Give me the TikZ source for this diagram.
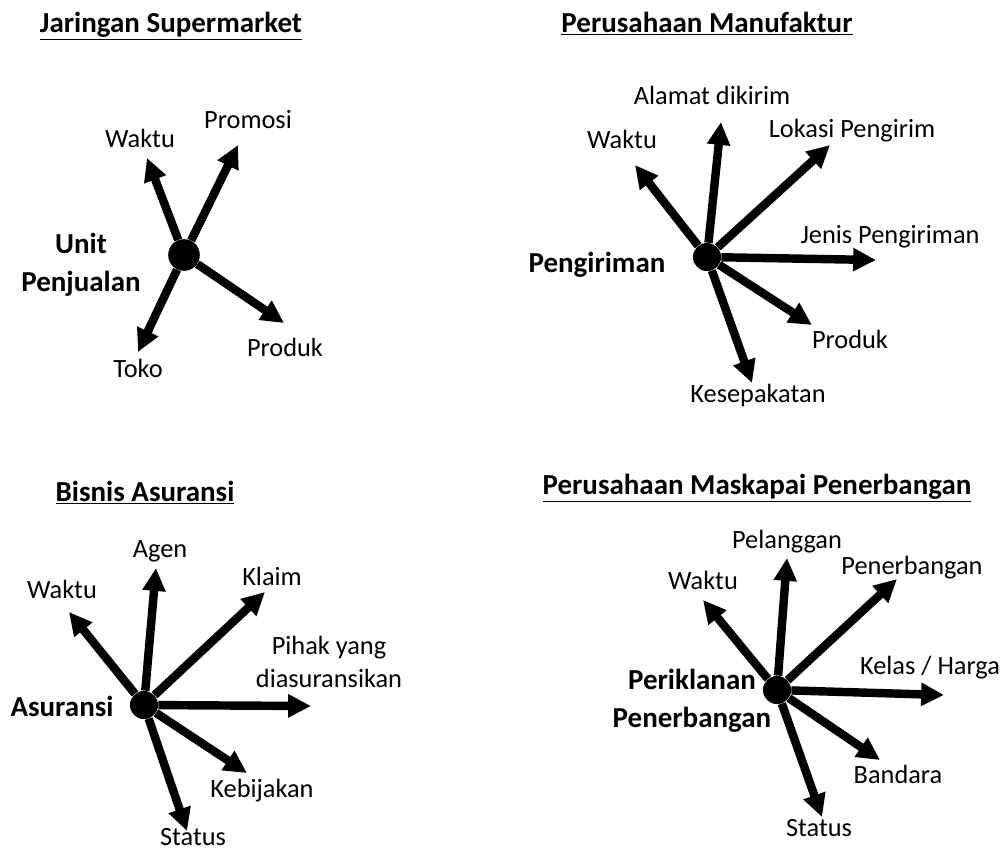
\documentclass[tikz,border=0pt]{standalone}
\usepackage{fontspec}
\setmainfont{Carlito}
\usetikzlibrary{arrows.meta}

\begin{document}
\begin{tikzpicture}[x=0.02cm,y=-0.02cm,
    dimensi/.style={line width=4.8pt,-{Triangle[length=13pt,width=12.5pt]}},
    pusat/.style={circle,fill=black,inner sep=0pt,minimum size=16pt},
    lbl/.style={font=\fontsize{15}{18.7}\selectfont,inner sep=0pt,anchor=base,align=center},
    fakta/.style={font=\fontsize{16.5}{21.5}\selectfont\bfseries,inner sep=0pt,anchor=base,align=center},
    judul/.style={font=\fontsize{16.5}{20}\selectfont\bfseries,inner sep=0pt,anchor=base}]
                \useasboundingbox (0,0) rectangle (1004,850);

                % Jaringan Supermarket
                \node[judul] (judul1) at (171,32) {\underline{Jaringan Supermarket}};
                \node[pusat,minimum size=18pt] (d1) at (184,255) {};
                \coordinate (w1) at (147,158);
                \coordinate (pr1) at (238,145);
                \coordinate (pd1) at (284,323);
                \coordinate (t1) at (138,352);
                \draw[dimensi] (d1) -- (w1);
                \draw[dimensi] (d1) -- (pr1);
                \draw[dimensi] (d1) -- (pd1);
                \draw[dimensi] (d1) -- (t1);
                \node[lbl] (lw1) at (140,147) {Waktu};
                \node[lbl] (lpr1) at (248,128) {Promosi};
                \node[lbl] (lpd1) at (285,356) {Produk};
                \node[lbl] (lt1) at (138,377) {Toko};
                \node[fakta] (f1) at (81,291) {Unit\\Penjualan};

                % Perusahaan Manufaktur
                \node[judul] (judul2) at (707,32) {\underline{Perusahaan Manufaktur}};
                \node[pusat] (d2) at (707,257) {};
                \coordinate (w2) at (635,165);
                \coordinate (al2) at (721,122);
                \coordinate (lk2) at (830,145);
                \coordinate (jn2) at (876,260);
                \coordinate (pd2) at (812,325);
                \coordinate (ks2) at (752,383);
                \draw[dimensi] (d2) -- (w2);
                \draw[dimensi] (d2) -- (al2);
                \draw[dimensi] (d2) -- (lk2);
                \draw[dimensi] (d2) -- (jn2);
                \draw[dimensi] (d2) -- (pd2);
                \draw[dimensi] (d2) -- (ks2);
                \node[lbl] (lw2) at (622,148) {Waktu};
                \node[lbl] (lal2) at (712,104) {Alamat dikirim};
                \node[lbl] (llk2) at (852,137) {Lokasi Pengirim};
                \node[lbl] (ljn2) at (890,243) {Jenis Pengiriman};
                \node[lbl] (lpd2) at (850,348) {Produk};
                \node[lbl] (lks2) at (758,402) {Kesepakatan};
                \node[fakta] (f2) at (597,272) {Pengiriman};

                % Bisnis Asuransi
                \node[judul] (judul3) at (145,501) {\underline{Bisnis Asuransi}};
                \node[pusat] (d3) at (144,705) {};
                \coordinate (w3) at (69,612);
                \coordinate (ag3) at (156,568);
                \coordinate (kl3) at (265,592);
                \coordinate (ph3) at (311,706);
                \coordinate (kb3) at (247,773);
                \coordinate (st3) at (187,831);
                \draw[dimensi] (d3) -- (w3);
                \draw[dimensi] (d3) -- (ag3);
                \draw[dimensi] (d3) -- (kl3);
                \draw[dimensi] (d3) -- (ph3);
                \draw[dimensi] (d3) -- (kb3);
                \draw[dimensi] (d3) -- (st3);
                \node[lbl] (lw3) at (62,598) {Waktu};
                \node[lbl] (lag3) at (160,557) {Agen};
                \node[lbl] (lkl3) at (272,585) {Klaim};
                \node[lbl] (lph3) at (329,687) {Pihak yang\\diasuransikan};
                \node[lbl] (lkb3) at (262,797) {Kebijakan};
                \node[lbl] (lst3) at (193,845) {Status};
                \node[fakta] (f3) at (62,716) {Asuransi};

                % Perusahaan Maskapai Penerbangan
                \node[judul] (judul4) at (757,494) {\underline{Perusahaan Maskapai Penerbangan}};
                \node[pusat] (d4) at (777,690) {};
                \coordinate (w4) at (703,600);
                \coordinate (pl4) at (787,558);
                \coordinate (pn4) at (897,579);
                \coordinate (kh4) at (944,695);
                \coordinate (bd4) at (880,760);
                \coordinate (st4) at (822,817);
                \draw[dimensi] (d4) -- (w4);
                \draw[dimensi] (d4) -- (pl4);
                \draw[dimensi] (d4) -- (pn4);
                \draw[dimensi] (d4) -- (kh4);
                \draw[dimensi] (d4) -- (bd4);
                \draw[dimensi] (d4) -- (st4);
                \node[lbl] (lw4) at (703,589) {Waktu};
                \node[lbl] (lpl4) at (787,548) {Pelanggan};
                \node[lbl] (lpn4) at (912,574) {Penerbangan};
                \node[lbl] (lkh4) at (930,674) {Kelas / Harga};
                \node[lbl] (lbd4) at (898,783) {Bandara};
                \node[lbl] (lst4) at (819,836) {Status};
                \node[fakta] (f4) at (692,727) {Periklanan\\Penerbangan};
\end{tikzpicture}
\end{document}
